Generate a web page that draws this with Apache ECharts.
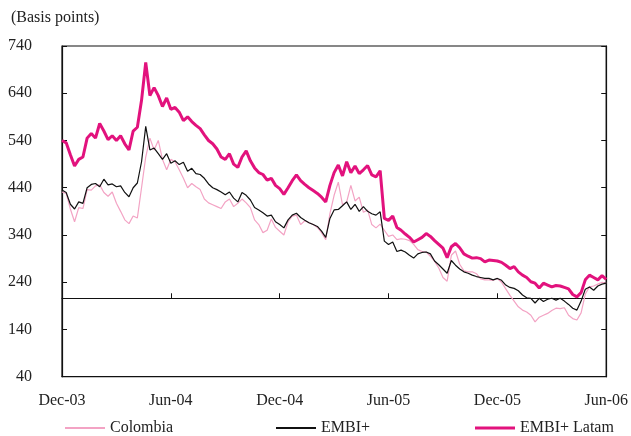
<!DOCTYPE html>
<html>
<head>
<meta charset="utf-8">
<script src="https://cdn.jsdelivr.net/npm/echarts@6/dist/echarts.min.js"></script>
<style>html,body{margin:0;padding:0;background:#fff}#c{width:631px;height:436px}</style>
</head>
<body>
<div id="c"></div>
<script>
// Weekly observations, Dec-03 .. Jun-06 (131 points)
const tickLabels = ['Dec-03','Jun-04','Dec-04','Jun-05','Dec-05','Jun-06'];
const weeksPerTick = 26;

const colombia = [
 431,428,395,368,398,396,436,435,444,446,
 430,422,431,407,390,372,364,380,376,440,
 505,545,520,540,500,478,500,495,478,460,
 440,449,442,436,416,408,404,400,396,410,
 416,400,407,416,408,398,372,362,345,350,
 374,356,348,340,368,380,382,362,370,366,
 362,356,345,330,385,424,452,404,410,445,
 412,420,388,393,362,355,363,350,337,340,
 330,332,331,328,320,309,305,304,295,284,
 270,250,242,297,306,278,264,262,262,258,
 247,245,245,244,248,240,226,212,200,188,
 181,177,170,156,166,170,174,180,185,184,
 186,170,163,160,175,215,230,232,236,240,
 238
];
const embi = [
 435,430,405,395,410,407,440,447,449,442,
 458,446,448,442,444,430,421,440,450,495,
 570,520,524,512,500,512,492,497,489,494,
 475,481,470,468,460,448,440,436,431,425,
 431,418,410,430,424,414,398,393,387,380,
 382,368,362,355,372,382,386,377,371,366,
 362,358,348,335,375,393,394,402,410,394,
 405,390,400,390,385,382,389,327,320,325,
 305,308,304,297,291,300,303,304,300,285,
 277,268,259,286,276,268,262,259,255,252,
 250,248,248,245,248,244,234,229,227,222,
 213,207,206,196,206,199,204,206,202,206,
 200,193,185,181,200,225,230,223,232,236,
 238
];
const embiLatam = [
 540,535,510,486,500,505,545,555,545,576,
 560,542,550,540,550,533,520,560,568,625,
 705,635,652,635,612,630,606,610,600,582,
 590,580,572,565,552,540,533,522,505,500,
 512,490,483,505,518,497,482,472,468,456,
 460,445,438,426,440,455,467,455,447,440,
 434,428,420,410,445,472,488,465,495,472,
 486,470,478,487,467,463,476,375,371,380,
 356,350,342,335,325,330,335,343,337,328,
 320,312,292,315,322,313,300,295,291,292,
 290,283,287,286,285,282,276,269,273,262,
 255,250,241,238,228,238,234,230,233,232,
 229,226,214,209,218,245,255,250,245,254,
 246
];
const yMin = 40, yMax = 740, yStep = 100;
const crossValue = 206;

const categories = embi.map((_, i) => i);
const font = "'Liberation Serif', 'Times New Roman', serif";
const gridTop = 46, gridBottom = 59.3, gridLeft = 62, gridRight = 21.5;
const gridH = 436 - gridTop - gridBottom;
const crossOffset = -(crossValue - yMin) / (yMax - yMin) * gridH;

const chart = echarts.init(document.getElementById('c'), null, {renderer: 'canvas'});
const tickFn = (idx) => idx % weeksPerTick === 0;
const txt = {fontFamily: font, fontSize: 16, color: '#222'};

chart.setOption({
  animation: false,
  backgroundColor: '#fff',
  textStyle: {fontFamily: font},
  title: {
    text: '(Basis points)', left: 6, top: 5,
    textStyle: {fontFamily: font, fontSize: 16, fontWeight: 'normal', color: '#222'}
  },
  legend: [
    {data: ['Colombia'], left: 60, top: 415, itemWidth: 40, itemHeight: 2, icon: 'rect', textStyle: txt},
    {data: ['EMBI+'], left: 271, top: 415, itemWidth: 40, itemHeight: 2, icon: 'rect', textStyle: txt},
    {data: ['EMBI+ Latam'], left: 470, top: 415, itemWidth: 40, itemHeight: 3, icon: 'rect', textStyle: txt}
  ],
  grid: {left: gridLeft, right: gridRight, top: gridTop, bottom: gridBottom,
         show: true, borderColor: '#111', borderWidth: 1.2},
  xAxis: [
    {
      type: 'category', data: categories, boundaryGap: false, position: 'bottom',
      axisLine: {show: true, lineStyle: {color: '#111', width: 1.2}},
      axisTick: {show: false},
      axisLabel: Object.assign({
        interval: tickFn, margin: 16,
        formatter: (v, idx) => (idx % weeksPerTick === 0 ? tickLabels[idx / weeksPerTick] : '')
      }, txt),
      splitLine: {show: false}
    },
    {
      type: 'category', data: categories, boundaryGap: false, position: 'bottom', offset: crossOffset,
      axisLine: {show: true, lineStyle: {color: '#111', width: 1.2}},
      axisTick: {show: true, inside: true, length: 5, interval: tickFn, lineStyle: {color: '#111'}},
      axisLabel: {show: false},
      splitLine: {show: false}
    }
  ],
  yAxis: [
    {
      type: 'value', min: yMin, max: yMax, interval: yStep, position: 'left',
      axisLine: {show: true, lineStyle: {color: '#111', width: 1.2}},
      axisTick: {show: true, inside: true, length: 5, lineStyle: {color: '#111'}},
      axisLabel: Object.assign({margin: 30, align: 'right'}, txt),
      splitLine: {show: false}
    },
    {
      type: 'value', min: yMin, max: yMax, interval: yStep, position: 'right',
      axisLine: {show: true, lineStyle: {color: '#111', width: 1.2}},
      axisTick: {show: true, inside: true, length: 5, lineStyle: {color: '#111'}},
      axisLabel: {show: false},
      splitLine: {show: false}
    }
  ],
  series: [
    {name: 'Colombia', type: 'line', data: colombia, showSymbol: false, symbol: 'none',
     lineStyle: {color: '#f3a3c4', width: 1.2}, itemStyle: {color: '#f3a3c4'}},
    {name: 'EMBI+', type: 'line', data: embi, showSymbol: false, symbol: 'none',
     lineStyle: {color: '#111', width: 1.2}, itemStyle: {color: '#111'}},
    {name: 'EMBI+ Latam', type: 'line', data: embiLatam, showSymbol: false, symbol: 'none',
     lineStyle: {color: '#e2127d', width: 3}, itemStyle: {color: '#e2127d'}}
  ]
});
</script>
</body>
</html>
